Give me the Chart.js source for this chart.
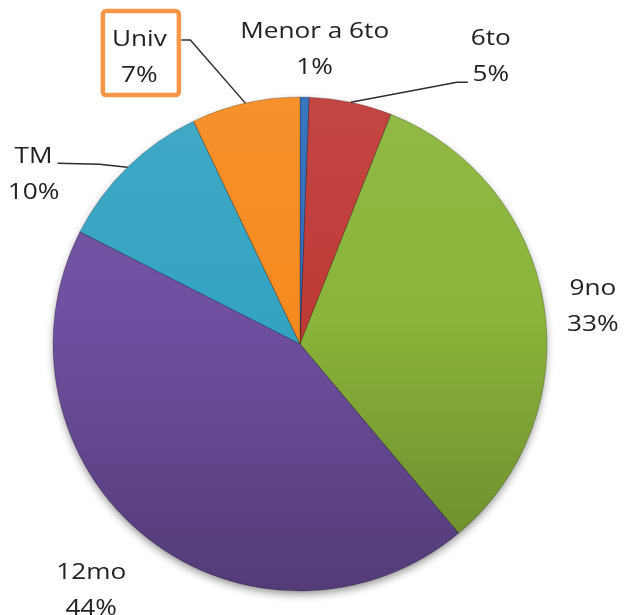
<!DOCTYPE html>
<html><head><meta charset="utf-8">
<script src="https://cdn.jsdelivr.net/npm/chart.js@4.4.0/dist/chart.umd.min.js"></script>
<style>html,body{margin:0;padding:0;background:#fff;} #wrap{width:624px;height:615px;overflow:hidden;}</style>
</head><body><div id="wrap"><canvas id="c" width="624" height="615"></canvas></div>
<script>
// ---- data ----
const categories = ['Menor a 6to', '6to', '9no', '12mo', 'TM', 'Univ'];
const values = [0.6, 5.4, 32.9, 43.6, 10.4, 7.1];
const colors = ['#2F6BBA', '#BF3A37', '#8AB43A', '#6F4FA0', '#34A3C2', '#F58A1F'];

// ---- label styling (offsets relative to the slice's outer mid-point) ----
const labelStyle = [
  { tx: 10, ty: -59 },
  { tx: 140, ty: -57, leader: [[106, -20], [117, -20]] },
  { tx: 49, ty: -10 },
  { tx: -55, ty: 42 },
  { tx: -94, ty: -4, leader: [[-28, -3], [-70, -4]] },
  { tx: -106, ty: -57, leader: [[-55, -63], [-64, -63]], box: [-142.5, -92, -66.5, -8] }
];

const total = values.reduce((a, b) => a + b, 0);
const pctLabels = values.map(v => Math.round(v / total * 100) + '%');
const RADIUS = 247;

function mix(hex, target, t) {
  const n = parseInt(hex.slice(1), 16);
  const r = (n >> 16) & 255, g = (n >> 8) & 255, b = n & 255;
  const m = c => Math.round(c + (target - c) * t);
  return `rgb(${m(r)},${m(g)},${m(b)})`;
}

function sliceFill(c) {
  const base = colors[c.dataIndex];
  const area = c.chart.chartArea;
  if (!area) return base;
  const cy = (area.top + area.bottom) / 2;
  const g = c.chart.ctx.createLinearGradient(0, cy - RADIUS, 0, cy + RADIUS);
  g.addColorStop(0, mix(base, 255, 0.06));
  g.addColorStop(0.45, base);
  g.addColorStop(1, mix(base, 0, 0.25));
  return g;
}

const shadowPlugin = {
  id: 'shadow',
  beforeDatasetsDraw(chart) {
    const el = chart.getDatasetMeta(0).data[0];
    if (!el) return;
    const { x, y, outerRadius } = el.getProps(['x', 'y', 'outerRadius'], true);
    const ctx = chart.ctx;
    ctx.save();
    ctx.beginPath();
    ctx.arc(x, y, outerRadius - 1, 0, Math.PI * 2);
    ctx.shadowColor = 'rgba(0,0,0,0.45)';
    ctx.shadowBlur = 9;
    ctx.shadowOffsetY = 4;
    ctx.fillStyle = '#555';
    ctx.fill();
    ctx.restore();
  }
};

const labelPlugin = {
  id: 'sliceLabels',
  afterDatasetsDraw(chart) {
    const ctx = chart.ctx;
    const meta = chart.getDatasetMeta(0);
    meta.data.forEach((el, i) => {
      const { x, y, startAngle, endAngle, outerRadius } =
        el.getProps(['x', 'y', 'startAngle', 'endAngle', 'outerRadius'], true);
      const mid = (startAngle + endAngle) / 2;
      const ax = x + Math.cos(mid) * outerRadius;
      const ay = y + Math.sin(mid) * outerRadius;
      const st = labelStyle[i];
      ctx.save();
      if (st.leader) {
        ctx.beginPath();
        ctx.moveTo(ax, ay);
        st.leader.forEach(p => ctx.lineTo(ax + p[0], ay + p[1]));
        ctx.strokeStyle = '#2e2e2e';
        ctx.lineWidth = 1.5;
        ctx.stroke();
      }
      if (st.box) {
        const [x1, y1, x2, y2] = st.box;
        ctx.beginPath();
        ctx.roundRect(ax + x1, ay + y1, x2 - x1, y2 - y1, 3);
        ctx.strokeStyle = '#F79646';
        ctx.lineWidth = 4.5;
        ctx.stroke();
      }
      ctx.fillStyle = '#222';
      ctx.font = '22px "Open Sans"';
      ctx.textAlign = 'center';
      ctx.textBaseline = 'alphabetic';
      [categories[i], pctLabels[i]].forEach((line, k) => {
        ctx.save();
        ctx.translate(ax + st.tx, ay + st.ty + k * 36);
        ctx.scale(1.19, 1);
        ctx.fillText(line, 0, 0);
        ctx.restore();
      });
      ctx.restore();
    });
  }
};

new Chart(document.getElementById('c'), {
  type: 'pie',
  data: {
    labels: categories,
    datasets: [{
      data: values,
      backgroundColor: sliceFill,
      borderColor: 'rgba(0,0,0,0.22)',
      borderWidth: 1,
      radius: RADIUS
    }]
  },
  options: {
    responsive: false,
    animation: false,
    devicePixelRatio: 1,
    layout: { padding: { left: 0, right: 24, top: 73, bottom: 0 } },
    plugins: { legend: { display: false }, tooltip: { enabled: false } }
  },
  plugins: [shadowPlugin, labelPlugin]
});
</script>
</body></html>
